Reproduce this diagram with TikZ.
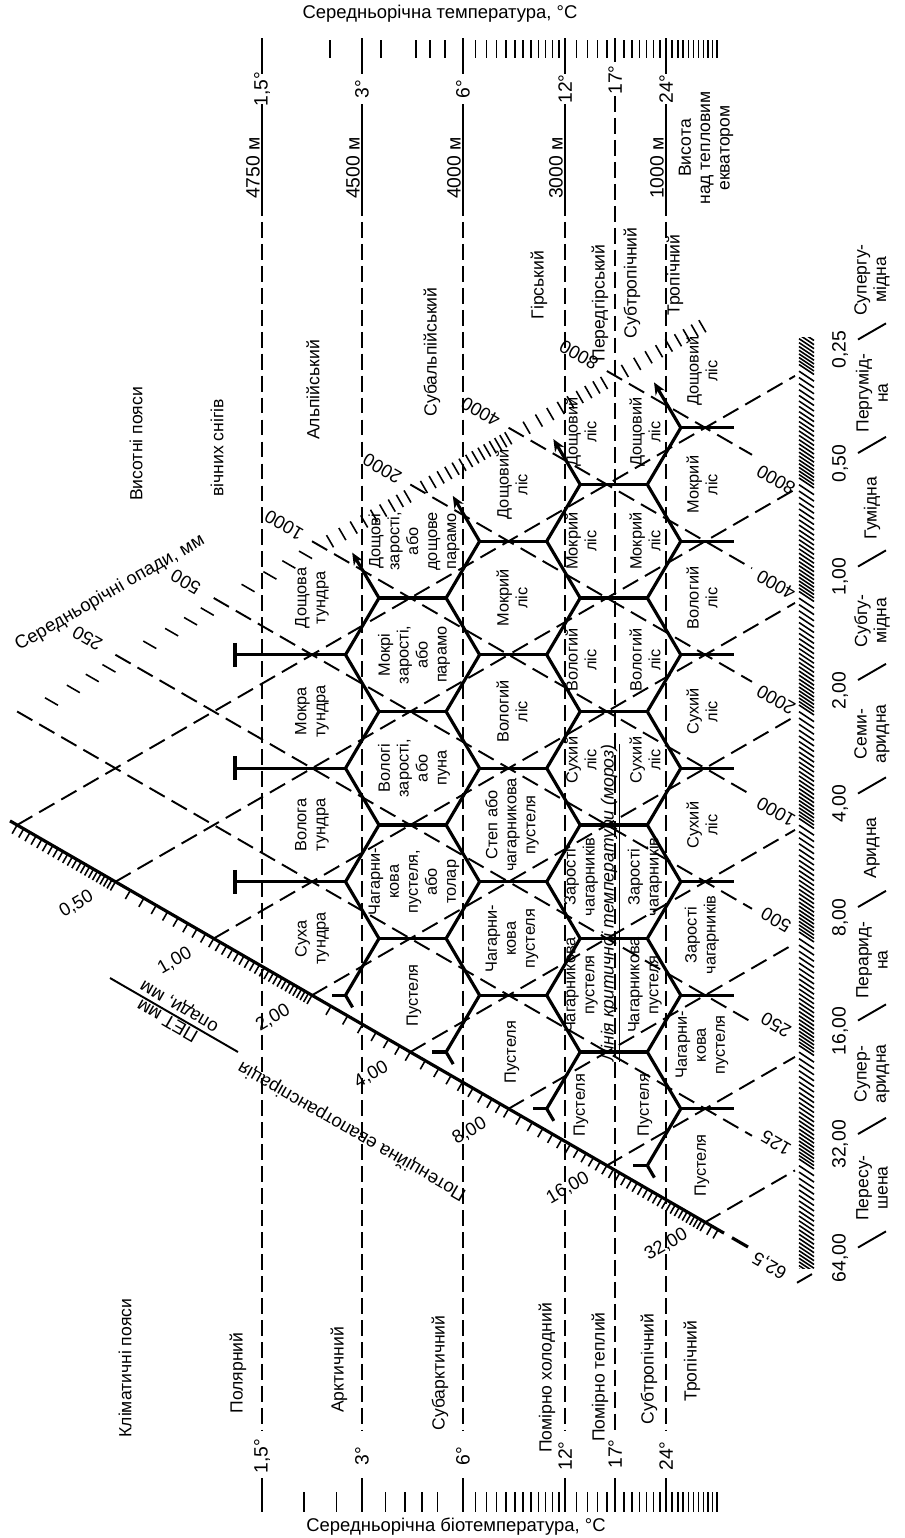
\documentclass[tikz,border=0pt]{standalone}
\usepackage{fontspec}
\setmainfont{Liberation Sans}
\usetikzlibrary{arrows.meta}
\tikzset{
  hexedge/.style={line width=1.8pt},
  guide/.style={line width=1.1pt, dash pattern=on 10pt off 4.5pt},
  tline/.style={line width=1.1pt},
  tdash/.style={line width=1.1pt, dash pattern=on 9pt off 3.5pt},
  zone/.style={rotate=90, align=center, inner sep=0pt, font=\fontsize{9.3}{10.8}\selectfont},
  belt/.style={rotate=90, align=center, inner sep=0pt, font=\fontsize{10}{11}\selectfont},
  num/.style={inner sep=0pt, font=\fontsize{10.5}{11}\selectfont},
  tick/.style={line width=0.9pt},
}
\begin{document}
\begin{tikzpicture}[x=0.02cm, y=-0.02cm]
\useasboundingbox (0,0) rectangle (904,1538);

% titles
\node[num] (ttop) at (440,14) {Середньорічна температура, °C};
\node[num] (tbot) at (456,1527) {Середньорічна біотемпература, °C};

% temperature lines
\foreach \tx/\ta/\alt in {262/{1,5°}/{4750 м},362/3°/{4500 м},463/6°/{4000 м},565/12°/{3000 м},666/24°/{1000 м}}{
  \draw[tline] (\tx,38) -- (\tx,74);
  \node[num, rotate=90, font=\fontsize{11}{12}\selectfont] at (\tx,89) {\ta};
  \draw[tline] (\tx,104) -- (\tx,200);
  \node[num, rotate=90, anchor=south, inner sep=1pt, font=\fontsize{11}{12}\selectfont] at (\tx,168) {\alt};
  \draw[tdash] (\tx,200) -- (\tx,1430);
  \node[num, rotate=90, font=\fontsize{11}{12}\selectfont] at (\tx,1456) {\ta};
  \draw[tline] (\tx,1478) -- (\tx,1512);
}
\draw[tline] (615,38) -- (615,62);
\node[num, rotate=90, font=\fontsize{11}{12}\selectfont] (t17a) at (615,80) {17°};
\draw[tdash] (615,96) -- (615,1430);
\node[num, rotate=90, font=\fontsize{11}{12}\selectfont] (t17b) at (615,1454) {17°};
\draw[tline] (615,1478) -- (615,1512);

% rulers
\foreach \xx in {330,381,416,430,445} \draw[tick] (\xx,40) -- (\xx,58);
\foreach \t in {6.5,7,...,11.5,13,14,...,16,18,19,...,23,25,26,...,34}
  \draw[tick] ({262+101*ln(\t/1.5)/ln(2)},40) -- ++(0,18);
\foreach \t in {2,2.5,3.5,4,4.5,5,6.5,7,...,11.5,13,14,...,16,18,19,...,23,25,26,...,34}
  \draw[tick] ({262+101*ln(\t/1.5)/ln(2)},1492) -- ++(0,20);

% precipitation lines
\foreach \a in {-1,0,...,5}{
  \pgfmathsetmacro{\xs}{312+98.29*(\a-2)}
  \pgfmathsetmacro{\ys}{541.25-0.57735*(\xs-312)}
  \pgfmathsetmacro{\ye}{768.25-113.5*\a+0.57735*(752-312)}
  \draw[guide] (\xs,\ys) -- (752,\ye);
}
% PET ratio lines
\foreach \b in {-1,0,...,6}{
  \pgfmathsetmacro{\xs}{312+98.29*(\b-2)}
  \pgfmathsetmacro{\ys}{995.25+0.57735*(\xs-312)}
  \pgfmathsetmacro{\ye}{768.25+113.5*\b-0.57735*(795-312)}
  \draw[guide] (\xs,\ys) -- (795,\ye);
}

% precipitation ticks (upper left)
\foreach \a/\n in {-1/4,0/4,1/4}{
  \foreach \k in {1,...,\n}{
    \pgfmathsetmacro{\d}{98.29*(\a-2+ln(1+\k/(\n+1))/ln(2))}
    \draw[tick] ({312+\d+2},{541.25-0.57735*\d+1.2}) -- ++(13,7.5);
  }
}
\foreach \a/\n in {2/9,3/14,4/9,5/9}{
  \foreach \k in {1,...,\n}{
    \pgfmathsetmacro{\d}{98.29*(\a-2+ln(1+\k/(\n+1))/ln(2))}
    \draw[tick] ({312+\d+1},{541.25-0.57735*\d+1.7}) -- ++(7,12.1);
  }
}
\foreach \a/\p in {0/250,1/500,2/1000,3/2000,4/4000,5/8000}{
  \pgfmathsetmacro{\d}{98.29*(\a-2)}
  \node[num, rotate=150] at ({312+\d-28},{541.25-0.57735*\d-16}) {\p};
}
\node[num, rotate=30] (popad) at (110,593) {Середньорічні опади, мм};

% lower left scale
\draw[line width=1.8pt] (10,{995.25+0.57735*(10-312)}) -- (724,{995.25+0.57735*(724-312)});
\draw[line width=1.8pt] (732,{995.25+0.57735*(732-312)}) -- (748,{995.25+0.57735*(748-312)});
\foreach \b/\n in {-1/20,0/8,1/20,2/6,3/8,4/10,5/20,6/20}{
  \foreach \k in {0,...,\n}{
    \pgfmathsetmacro{\d}{98.29*(\b-2+ln(1+\k/(\n+1))/ln(2))}
    \pgfmathsetmacro{\xx}{312+\d}
    \ifdim\xx pt<722pt
      \draw[tick] (\xx,{995.25+0.57735*\d}) -- ++(-5,8.66);
    \fi
  }
}
\foreach \b/\r in {0/{0,50},1/{1,00},2/{2,00},3/{4,00},4/{8,00},5/{16,00},6/{32,00}}{
  \pgfmathsetmacro{\d}{98.29*(\b-2)}
  \node[num, rotate=30] at ({312+\d-39},{995.25+0.57735*\d+22.5}) {\r};
}
\node[num, rotate=150] (p625) at (770,1265) {62,5};
\draw[line width=1.1pt] (110,978) -- (238,1052);
\node[num, rotate=150] (pet) at (167,1021) {ПЕТ мм};
\node[num, rotate=150] (opd) at (180,1005) {опади, мм};
\node[num, rotate=150] (evap) at (352,1131) {Потенційна евапотранспірація};

% right side
\begin{scope}
\clip (790,337) rectangle (820,1268);
\foreach \b in {-2,...,6}{
  \foreach \k in {0,...,23}{
    \pgfmathsetmacro{\yy}{483+113.5*(\b+ln(1+\k/24)/ln(2))}
    \draw[line width=0.9pt] (799,\yy-5) -- (814,\yy+5);
  }
}
\end{scope}
\foreach \b/\r in {-1/{0,25},0/{0,50},1/{1,00},2/{2,00},3/{4,00},4/{8,00},5/{16,00},6/{32,00},7/{64,00}}{
  \pgfmathsetmacro{\yl}{768.25+113.5*\b-0.57735*(840-312)}
  \node[num, rotate=90, font=\fontsize{11}{12}\selectfont] at (840,\yl) {\r};
  \draw[tline] (858,{768.25+113.5*\b-0.57735*(858-312)}) -- (886,{768.25+113.5*\b-0.57735*(886-312)});
}
\draw[tline] (797,{768.25+113.5*7-0.57735*(797-312)}) -- (812,{768.25+113.5*7-0.57735*(812-312)});
\foreach \yy/\p in {480/8000,585/4000,700/2000,812/1000,920/500,1025/250,1143/125}
  \node[num, rotate=150] at (776,\yy) {\p};
\foreach \yy/\t in {280/{Супергу-\\мідна},393/{Пергумід-\\на},508/{Гумідна},621/{Субгу-\\мідна},734/{Семи-\\аридна},848/{Аридна},960/{Перарид-\\на},1074/{Супер-\\аридна},1188/{Пересу-\\шена}}
  \node[belt] at (872,\yy) {\t};

% hexagon mesh
\foreach \i in {1,...,5}{
  \pgfmathsetmacro{\cx}{312+100.6*(\i-1)}
  \pgfmathtruncatemacro{\jmax}{\i+2}
  \foreach \j in {0,...,\jmax}{
    \pgfmathsetmacro{\cy}{598-56.75*(\i-1)+113.5*\j}
    \ifnum\j<\jmax
      \ifnum\i=5
        \draw[hexedge] (\cx-33.5,\cy+56.75) -- (\cx+20,\cy+56.75);
      \else
        \draw[hexedge] (\cx-33.5,\cy+56.75) -- (\cx+33.5,\cy+56.75);
      \fi
      \ifnum\i=1
        \draw[hexedge] (\cx-33.5,\cy+56.75) -- (235,\cy+56.75);
        \draw[hexedge] (235,\cy+44.75) -- (235,\cy+68.75);
      \fi
    \fi
    \ifnum\i<5
      \ifnum\j=0
        \draw[hexedge,-{Stealth[length=7pt,width=6pt]}] (\cx+67,\cy) -- (\cx+40.2,\cy-45.4);
      \else
        \draw[hexedge] (\cx+67,\cy) -- (\cx+33.5,\cy-56.75);
      \fi
      \draw[hexedge] (\cx+67,\cy) -- (\cx+33.5,\cy+56.75);
      \ifnum\j=\jmax
        \draw[hexedge] (\cx+33.5,\cy+56.75) -- ++(-14,0);
        \draw[hexedge] (\cx+33.5,\cy+56.75) -- ++(7.1,12.1);
      \fi
    \fi
  }
}

% zone names
\foreach \yy/\t in {598/{Дощова\\тундра},711.5/{Мокра\\тундра},825/{Волога\\тундра},938.5/{Суха\\тундра}}
  \node[zone] at (312,\yy) {\t};
\foreach \yy/\t in {541.25/{Дощові\\зарості,\\або\\дощове\\парамо},654.75/{Мокрі\\зарості,\\або\\парамо},768.25/{Вологі\\зарості,\\або\\пуна},881.75/{Чагарни-\\кова\\пустеля,\\або\\толар},995.25/{Пустеля}}
  \node[zone] at (414,\yy) {\t};
\foreach \yy/\t in {484.5/{Дощовий\\ліс},598/{Мокрий\\ліс},711.5/{Вологий\\ліс},825/{Степ або\\чагарникова\\пустеля},938.5/{Чагарни-\\кова\\пустеля},1052/{Пустеля}}
  \node[zone] at (512,\yy) {\t};
\foreach \yy/\t in {432/{Дощовий\\ліс},541.25/{Мокрий\\ліс},660/{Вологий\\ліс},760/{Сухий\\ліс},877/{Зарості\\чагарників},985/{Чагарникова\\пустеля},1105/{Пустеля}}{
  \node[zone] at (581,\yy) {\t};
  \node[zone] at (645,\yy) {\t};
}
\foreach \yy/\t in {371/{Дощовий\\ліс},484.5/{Мокрий\\ліс},598/{Вологий\\ліс},711.5/{Сухий\\ліс},825/{Сухий\\ліс},935/{Зарості\\чагарників},1045/{Чагарни-\\кова\\пустеля},1165.5/{Пустеля}}
  \node[zone] at (702,\yy) {\t};
\node[rotate=90, anchor=south, inner sep=1pt, font=\fontsize{10}{11}\selectfont\itshape] (frost) at (623,903) {\underline{Лінія критичної температури (мороз)}};

% belts
\node[belt] (hb) at (136,444) {Висотні пояси};
\node[belt] at (217,448) {вічних снігів};
\node[belt] at (313,390) {Альпійський};
\node[belt] at (432,352) {Субальпійський};
\node[belt] at (539,285) {Гірський};
\node[belt] at (600,303) {Передгірський};
\node[belt] at (632,283) {Субтропічний};
\node[belt] at (675,275) {Тропічний};
\node[belt] (hgt) at (706,148) {Висота\\над тепловим\\екватором};
\node[belt] (kb) at (125,1368) {Кліматичні пояси};
\node[belt] at (238,1373) {Полярний};
\node[belt] at (339,1370) {Арктичний};
\node[belt] at (440,1373) {Субарктичний};
\node[belt] at (547,1378) {Помірно холодний};
\node[belt] at (600,1377) {Помірно теплий};
\node[belt] at (649,1369) {Субтропічний};
\node[belt] at (692,1361) {Тропічний};
\end{tikzpicture}
\end{document}
